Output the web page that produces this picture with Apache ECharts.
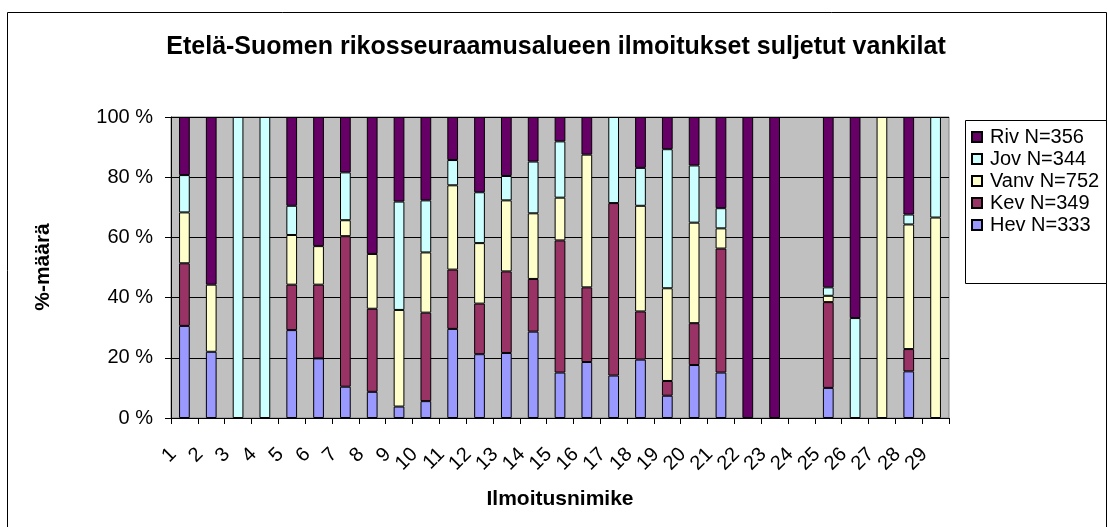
<!DOCTYPE html>
<html><head><meta charset="utf-8">
<script src="https://cdn.jsdelivr.net/npm/echarts@6/dist/echarts.min.js"></script>
<style>html,body{margin:0;padding:0;background:#fff}#c{width:1108px;height:527px}</style>
</head><body><div id="c"></div>
<script>
const categories = ['1','2','3','4','5','6','7','8','9','10','11','12','13','14','15','16','17','18','19','20','21','22','23','24','25','26','27','28','29'];
const hev  = [30.6, 22.0, 0, 0, 29.2, 19.8, 10.4, 8.7, 3.8, 5.6, 29.6, 21.2, 21.6, 28.7, 15.1, 18.6, 14.1, 19.4, 7.4, 17.6, 15.1, 0, 0, 0, 10.0, 0, 0, 15.5, 0];
const kev  = [20.8, 0, 0, 0, 15.1, 24.5, 50.0, 27.6, 0, 29.4, 19.7, 16.8, 27.1, 17.5, 43.9, 24.8, 57.3, 16.0, 4.9, 13.9, 41.2, 0, 0, 0, 28.5, 0, 0, 7.4, 0];
const vanv = [16.9, 22.3, 0, 0, 16.5, 12.8, 5.3, 18.2, 32.1, 20.0, 28.0, 20.1, 23.6, 21.8, 14.2, 44.1, 0, 35.1, 30.8, 33.4, 6.7, 0, 0, 0, 2.1, 0, 100, 41.4, 66.6];
const jov  = [12.4, 0, 100, 100, 9.7, 0, 15.9, 0, 36.0, 17.3, 8.4, 16.9, 8.1, 17.2, 18.7, 0, 28.6, 12.6, 46.2, 19.0, 6.7, 0, 0, 0, 2.8, 33.2, 0, 3.3, 33.4];
const riv  = [19.3, 55.7, 0, 0, 29.5, 42.9, 18.4, 45.5, 28.1, 27.7, 14.3, 25.0, 19.6, 14.8, 8.1, 12.5, 0, 16.9, 10.7, 16.1, 30.3, 100, 100, 0, 56.6, 66.8, 0, 32.4, 0];
const seriesNames = ['Hev N=333', 'Kev N=349', 'Vanv N=752', 'Jov N=344', 'Riv N=356'];
const legendOrder = ['Riv N=356', 'Jov N=344', 'Vanv N=752', 'Kev N=349', 'Hev N=333'];
const yTicks = [0, 20, 40, 60, 80, 100];
const titleText = 'Etelä-Suomen rikosseuraamusalueen ilmoitukset suljetut vankilat';
const yName = '%-määrä';
const xName = 'Ilmoitusnimike';

const colors = ['#9999FF', '#993366', '#FFFFCC', '#CCFFFF', '#660066'];
const FONT = "'Liberation Sans', Arial, sans-serif";
const values = [hev, kev, vanv, jov, riv];

const chart = echarts.init(document.getElementById('c'), null, {renderer: 'canvas'});
chart.setOption({
  animation: false,
  backgroundColor: '#ffffff',
  textStyle: {fontFamily: FONT},
  grid: {
    left: 171, top: 117, width: 778, height: 301,
    show: true, backgroundColor: '#C0C0C0', borderColor: '#808080', borderWidth: 1,
    containLabel: false, outerBoundsMode: 'none'
  },
  legend: {
    data: legendOrder, orient: 'vertical', left: 971, top: 127,
    padding: 0, itemWidth: 10, itemHeight: 10, itemGap: 2, icon: 'rect',
    selectedMode: false,
    textStyle: {fontSize: 20, color: '#000', fontFamily: FONT, padding: [0, 0, 0, 3]}
  },
  xAxis: {
    type: 'category', data: categories,
    axisLine: {show: true, lineStyle: {color: '#000', width: 1}},
    axisTick: {show: true, length: 6, interval: 0, lineStyle: {color: '#000'}},
    axisLabel: {interval: 0, rotate: 45, fontSize: 20, color: '#000', fontFamily: FONT, margin: 22, padding: [0, 16, 0, 0]},
    splitLine: {show: false}
  },
  yAxis: {
    type: 'value', min: yTicks[0], max: yTicks[yTicks.length - 1], interval: yTicks[1] - yTicks[0],
    axisLine: {show: true, lineStyle: {color: '#000', width: 1}},
    axisTick: {show: true, length: 6, lineStyle: {color: '#000'}},
    axisLabel: {formatter: '{value} %', fontSize: 20, color: '#000', fontFamily: FONT, margin: 18},
    splitLine: {show: true, lineStyle: {color: '#000', width: 1}}
  },
  series: seriesNames.map((name, i) => ({
    name: name, type: 'bar', stack: 'total', barWidth: '40%',
    data: values[i].map(v => v === 0 ? null : v),
    itemStyle: {color: colors[i], borderColor: '#000', borderWidth: 1},
    emphasis: {disabled: true}
  })),
  graphic: [
    {type: 'rect', shape: {x: 7.5, y: 12.5, width: 1099, height: 600}, style: {fill: null, stroke: '#000', lineWidth: 1}, silent: true, z: -1},
    {type: 'rect', shape: {x: 965.5, y: 120.5, width: 141, height: 163}, style: {fill: '#fff', stroke: '#000', lineWidth: 1}, silent: true, z: -1},
    {type: 'text', x: 556, y: 47, style: {text: titleText, font: "bold 25px " + FONT, fill: '#000', align: 'center', verticalAlign: 'middle'}},
    {type: 'text', x: 43, y: 267, rotation: Math.PI / 2, style: {text: yName, font: "bold 21px " + FONT, fill: '#000', align: 'center', verticalAlign: 'middle'}},
    {type: 'text', x: 560, y: 499, style: {text: xName, font: "bold 21px " + FONT, fill: '#000', align: 'center', verticalAlign: 'middle'}}
  ]
});
</script></body></html>
